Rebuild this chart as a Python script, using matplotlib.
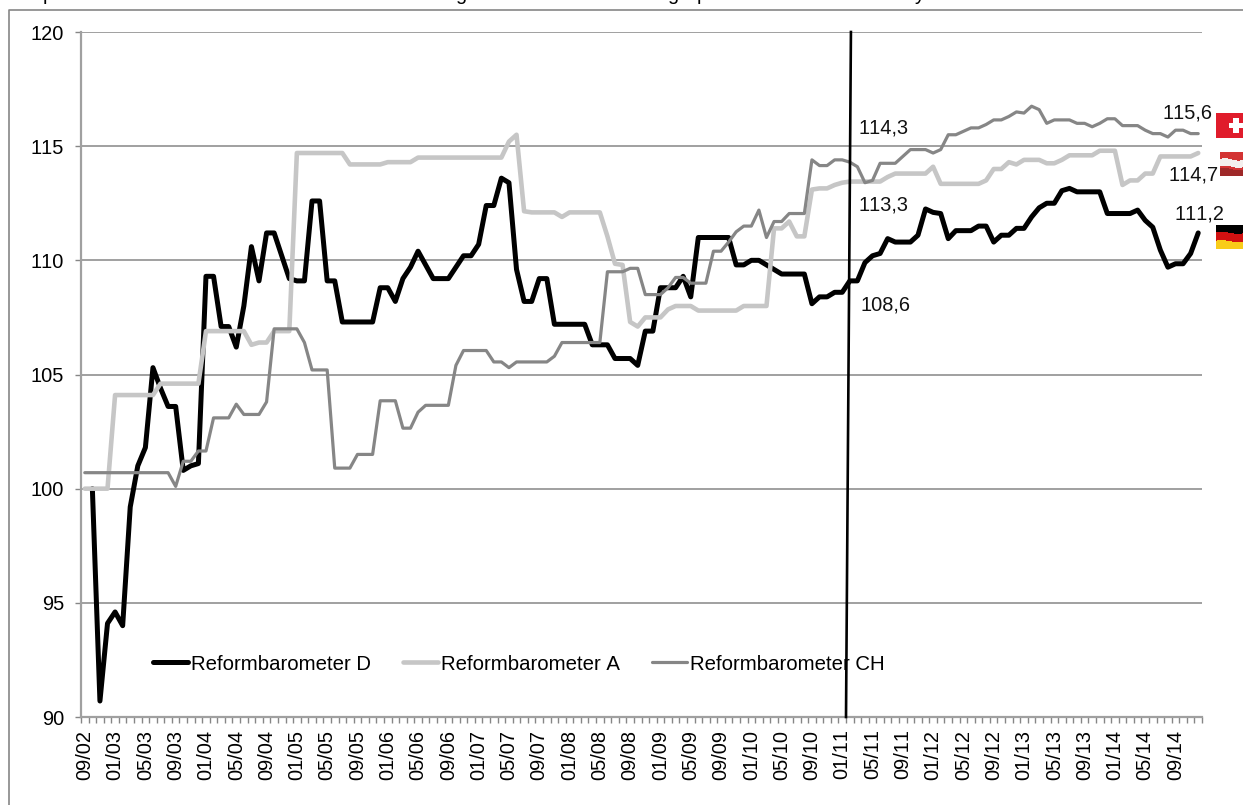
import numpy as np
import matplotlib
matplotlib.use('Agg')
import matplotlib.pyplot as plt
from matplotlib.lines import Line2D

plt.rcParams['font.family'] = ['Liberation Sans', 'DejaVu Sans']
plt.rcParams['text.kerning_factor'] = 6

# monthly values, 09/02 to 12/14
reform_d = [np.nan, 100, 90.7, 94.1, 94.6, 94.0, 99.2, 101.0, 101.8, 105.3,
            104.4, 103.6, 103.6, 100.8, 101.0, 101.1, 109.3, 109.3, 107.1, 107.1,
            106.2, 108.0, 110.6, 109.1, 111.2, 111.2, 110.2, 109.2, 109.1, 109.1,
            112.6, 112.6, 109.1, 109.1, 107.3, 107.3, 107.3, 107.3, 107.3, 108.8,
            108.8, 108.2, 109.2, 109.7, 110.4, 109.8, 109.2, 109.2, 109.2, 109.7,
            110.2, 110.2, 110.7, 112.4, 112.4, 113.6, 113.4, 109.6, 108.2, 108.2,
            109.2, 109.2, 107.2, 107.2, 107.2, 107.2, 107.2, 106.3, 106.3, 106.3,
            105.7, 105.7, 105.7, 105.4, 106.9, 106.9, 108.8, 108.8, 108.8, 109.3,
            108.4, 111.0, 111.0, 111.0, 111.0, 111.0, 109.8, 109.8, 110.0, 110.0,
            109.8, 109.6, 109.4, 109.4, 109.4, 109.4, 108.1, 108.4, 108.4, 108.6,
            108.6, 109.1, 109.1, 109.9, 110.2, 110.3, 110.95, 110.8, 110.8, 110.8,
            111.1, 112.25, 112.1, 112.05, 110.95, 111.3, 111.3, 111.3, 111.5, 111.5,
            110.8, 111.1, 111.1, 111.4, 111.4, 111.9, 112.3, 112.5, 112.5, 113.05,
            113.15, 113.0, 113.0, 113.0, 113.0, 112.05, 112.05, 112.05, 112.05, 112.2,
            111.75, 111.45, 110.45, 109.7, 109.85, 109.85, 110.3, 111.2]

reform_a = [100, 100, 100, 100, 104.1, 104.1, 104.1, 104.1, 104.1, 104.1,
            104.6, 104.6, 104.6, 104.6, 104.6, 104.6, 106.9, 106.9, 106.9, 106.9,
            106.9, 106.9, 106.3, 106.4, 106.4, 106.9, 106.9, 106.9, 114.7, 114.7,
            114.7, 114.7, 114.7, 114.7, 114.7, 114.2, 114.2, 114.2, 114.2, 114.2,
            114.3, 114.3, 114.3, 114.3, 114.5, 114.5, 114.5, 114.5, 114.5, 114.5,
            114.5, 114.5, 114.5, 114.5, 114.5, 114.5, 115.2, 115.5, 112.15, 112.1,
            112.1, 112.1, 112.1, 111.9, 112.1, 112.1, 112.1, 112.1, 112.1, 111.05,
            109.85, 109.8, 107.3, 107.1, 107.5, 107.5, 107.5, 107.85, 108.0, 108.0,
            108.0, 107.8, 107.8, 107.8, 107.8, 107.8, 107.8, 108.0, 108.0, 108.0,
            108.0, 111.4, 111.4, 111.7, 111.05, 111.05, 113.1, 113.15, 113.15, 113.3,
            113.4, 113.45, 113.45, 113.45, 113.45, 113.45, 113.65, 113.8, 113.8, 113.8,
            113.8, 113.8, 114.1, 113.35, 113.35, 113.35, 113.35, 113.35, 113.35, 113.5,
            114.0, 114.0, 114.3, 114.2, 114.4, 114.4, 114.4, 114.25, 114.25, 114.4,
            114.6, 114.6, 114.6, 114.6, 114.8, 114.8, 114.8, 113.3, 113.5, 113.5,
            113.8, 113.8, 114.55, 114.55, 114.55, 114.55, 114.55, 114.7]

reform_ch = [100.7, 100.7, 100.7, 100.7, 100.7, 100.7, 100.7, 100.7, 100.7, 100.7,
             100.7, 100.7, 100.1, 101.2, 101.2, 101.65, 101.65, 103.1, 103.1, 103.1,
             103.7, 103.25, 103.25, 103.25, 103.8, 107.0, 107.0, 107.0, 107.0, 106.4,
             105.2, 105.2, 105.2, 100.9, 100.9, 100.9, 101.5, 101.5, 101.5, 103.85,
             103.85, 103.85, 102.65, 102.65, 103.35, 103.65, 103.65, 103.65, 103.65, 105.4,
             106.05, 106.05, 106.05, 106.05, 105.55, 105.55, 105.3, 105.55, 105.55, 105.55,
             105.55, 105.55, 105.8, 106.4, 106.4, 106.4, 106.4, 106.4, 106.4, 109.5,
             109.5, 109.5, 109.65, 109.65, 108.5, 108.5, 108.5, 108.8, 109.25, 109.25,
             109.0, 109.0, 109.0, 110.4, 110.4, 110.8, 111.25, 111.5, 111.5, 112.2,
             111.0, 111.7, 111.7, 112.05, 112.05, 112.05, 114.4, 114.15, 114.15, 114.4,
             114.4, 114.3, 114.1, 113.4, 113.5, 114.25, 114.25, 114.25, 114.55, 114.85,
             114.85, 114.85, 114.7, 114.85, 115.5, 115.5, 115.65, 115.8, 115.8, 115.95,
             116.15, 116.15, 116.3, 116.5, 116.45, 116.75, 116.6, 116.0, 116.15, 116.15,
             116.15, 116.0, 116.0, 115.85, 116.0, 116.2, 116.2, 115.9, 115.9, 115.9,
             115.7, 115.55, 115.55, 115.4, 115.7, 115.7, 115.55, 115.55]

month_labels = ['09/02', '01/03', '05/03', '09/03', '01/04', '05/04', '09/04',
                '01/05', '05/05', '09/05', '01/06', '05/06', '09/06', '01/07',
                '05/07', '09/07', '01/08', '05/08', '09/08', '01/09', '05/09',
                '09/09', '01/10', '05/10', '09/10', '01/11', '05/11', '09/11',
                '01/12', '05/12', '09/12', '01/13', '05/13', '09/13', '01/14',
                '05/14', '09/14']
y_ticks = [90, 95, 100, 105, 110, 115, 120]

W, H = 1243., 805.
GREY = '#868686'
FS = 14.4


def fx(px):
    return px / W


def fy(py):
    return 1 - py / H


fig = plt.figure(figsize=(W / 100, H / 100), dpi=100)
ax = fig.add_axes([fx(81), fy(717), (1202 - 81) / W, (717 - 32) / H])

x = np.arange(len(reform_d))
ax.plot(x, reform_d, color='k', lw=3.6, solid_joinstyle='round', solid_capstyle='round',
        label='Reformbarometer D', zorder=3)
ax.plot(x, reform_a, color='#c6c6c6', lw=3.3, solid_joinstyle='round', solid_capstyle='round',
        label='Reformbarometer A', zorder=4)
ax.plot(x, reform_ch, color='#868686', lw=2.3, solid_joinstyle='round', solid_capstyle='round',
        label='Reformbarometer CH', zorder=5)

ax.set_xlim(-0.5, len(x) - 0.5)
ax.set_ylim(90, 120)
ax.set_yticks(y_ticks)
ax.set_xticks(x[::4])
ax.set_xticklabels(month_labels, rotation=90, fontsize=FS)
ax.set_xticks(np.arange(-0.5, len(x), 1), minor=True)
ax.tick_params(axis='x', which='major', length=0, pad=9)
ax.tick_params(axis='x', which='minor', length=4, width=1, color=GREY)
ax.tick_params(axis='y', length=4.3, width=1, color=GREY, pad=8, labelsize=FS)
ax.yaxis.grid(True, color=GREY, lw=1.1, zorder=1)
ax.set_axisbelow(True)
for s in ['top', 'right']:
    ax.spines[s].set_visible(False)
for s in ['left', 'bottom']:
    ax.spines[s].set_color('#a0a0a0')
    ax.spines[s].set_linewidth(1.6)

# hand drawn marker line in the original, slightly slanted
ax.plot([100.5, 101.15], [90, 120], color='k', lw=1.9, zorder=6, clip_on=False)

leg = ax.legend(loc='center left', bbox_to_anchor=((153 - 81) / 1121., (717 - 664) / 685.),
                ncol=3, frameon=False, fontsize=14.7, handlelength=1.7, handletextpad=0.18,
                columnspacing=1.55, borderpad=0, borderaxespad=0, labelspacing=0)
for t in leg.get_texts():
    t.set_color('k')

# value labels
value_labels = [('114,3', 858, 128), ('113,3', 859, 205), ('108,6', 860, 305),
                ('115,6', 1162, 113), ('114,7', 1169, 175), ('111,2', 1175, 214)]
for s, px, py in value_labels:
    fig.text(fx(px), fy(py), s, fontsize=FS, color='#111111', ha='left', va='center', zorder=8)

# chart frame, only left and top are inside the crop
fig.add_artist(Line2D([fx(9), fx(9), 1], [0, fy(10), fy(10)], color=GREY, lw=1.2))

# title is cut off by the crop, just the descenders show
for s, px in [('p', 43), ('g', 455), ('g', 667), ('p', 697), ('y', 915)]:
    fig.text(fx(px), fy(0), s, fontsize=FS, ha='left', va='baseline', color='k')


def flag_axes(left, top, right, bottom):
    a = fig.add_axes([fx(left), fy(bottom), (right - left) / W, (bottom - top) / H])
    a.axis('off')
    return a


def wave(shape, amp):
    yy, xx = np.mgrid[0:1:shape[0] * 1j, 0:1:shape[1] * 1j]
    return yy + amp * np.sin(xx * 5.0 + 0.6), xx


# Swiss flag
h, w = 25, 27
img = np.ones((h, w, 3)) * np.array([0.88, 0.11, 0.17])
img[10:15, 13:] = 1
img[5:20, 17:23] = 1
a = flag_axes(1216, 113, 1243, 138)
a.imshow(img, aspect='auto', interpolation='bilinear')

# Austrian flag
h, w = 24, 23
yy, xx = wave((h, w), 0.05)
img = np.ones((h, w, 3)) * np.array([0.83, 0.2, 0.2])
img[yy > 0.72] = [0.62, 0.16, 0.16]
img[(yy > 0.3) & (yy < 0.62)] = [0.96, 0.94, 0.93]
a = flag_axes(1220, 152, 1243, 176)
a.imshow(img, aspect='auto', interpolation='bilinear')

# German flag
h, w = 24, 27
yy, xx = wave((h, w), 0.04)
img = np.zeros((h, w, 3))
img[yy >= 0.32] = [0.82, 0.07, 0.07]
img[yy >= 0.68] = [0.98, 0.8, 0.1]
a = flag_axes(1216, 225, 1243, 249)
a.imshow(img, aspect='auto', interpolation='bilinear')

fig.savefig('out.png', dpi=100)
